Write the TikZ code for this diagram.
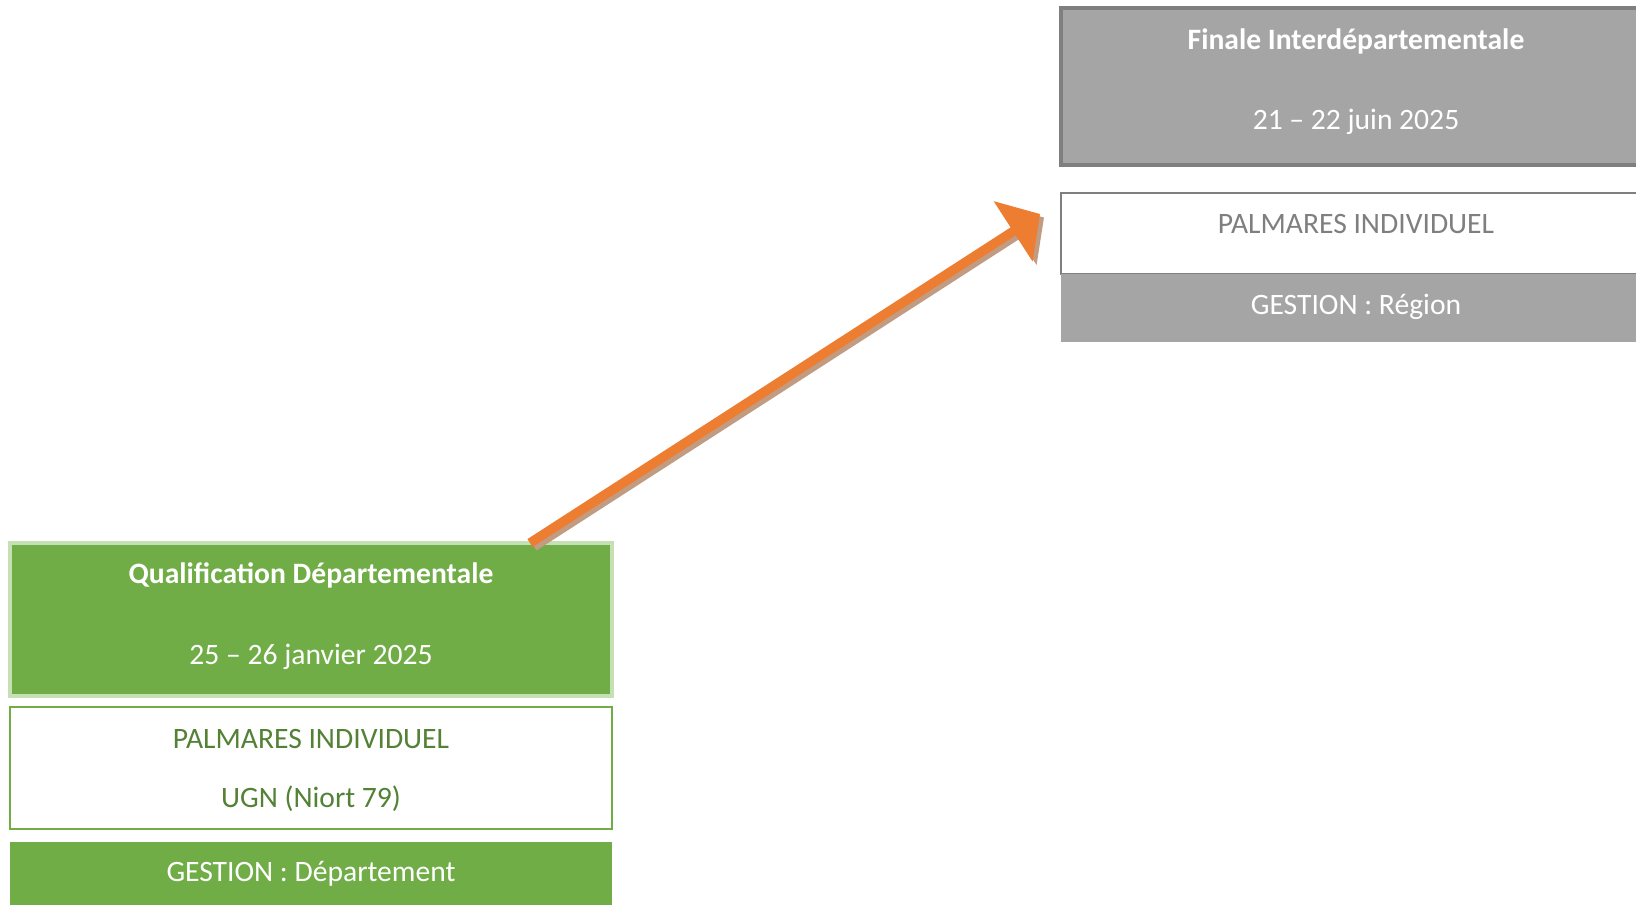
\documentclass[tikz,border=0pt]{standalone}
\usepackage{fontspec}
\setmainfont{Carlito}
\usetikzlibrary{arrows.meta,calc}
\definecolor{gfill}{HTML}{70AD47}
\definecolor{glight}{HTML}{C5E0B4}
\definecolor{gtext}{HTML}{538135}
\definecolor{grfill}{HTML}{A5A5A5}
\definecolor{grline}{HTML}{7F7F7F}
\definecolor{orng}{HTML}{ED7D31}
\definecolor{shad}{HTML}{C19C82}
\begin{document}
\begin{tikzpicture}[x=0.5pt,y=-0.5pt,
  box/.style={rectangle,inner sep=0pt,outer sep=0pt},
  txt/.style={inner sep=0pt,font=\fontsize{14.8}{17}\selectfont},
  btxt/.style={txt,font=\fontsize{14.8}{17}\selectfont\bfseries},
  arr/.style={line width=4.7pt,-{Triangle[length=16pt,width=35pt]}}]
\useasboundingbox (0,0) rectangle (1636,904);
% right column
\node[box,fill=grfill,draw=grline,line width=1.7pt,minimum width=299.5pt,minimum height=78.5pt] (finale) at (1360.5,86.5) {};
\node[box,fill=white,draw=grline,line width=1pt,minimum width=299.5pt,minimum height=40.5pt] (palmR) at (1360.5,233.5) {};
\node[box,fill=grfill,minimum width=299.5pt,minimum height=34pt] (gestR) at (1360.5,308) {};
\node[btxt,text=white] (finaleT) at ($(finale.north)+(-4.5,33)$) {Finale Interdépartementale};
\node[txt,text=white] (finaleD) at ($(finale.north)+(-4.5,114)$) {21 – 22 juin 2025};
\node[txt,text=grline] (palmRT) at ($(palmR.north)+(-4.5,31)$) {PALMARES INDIVIDUEL};
\node[txt,text=white] (gestRT) at ($(gestR.north)+(-4.5,33)$) {GESTION : Région};
% left column
\node[box,fill=gfill,draw=glight,line width=2pt,minimum width=301pt,minimum height=76.5pt] (qual) at (311,619.5) {};
\node[box,fill=white,draw=gfill,line width=1pt,minimum width=301pt,minimum height=61pt] (palmL) at (311,768) {};
\node[box,fill=gfill,minimum width=301pt,minimum height=40pt] (gestL) at (311,882) {};
\node[btxt,text=white] (qualT) at ($(qual.north)+(0,32)$) {Qualification Départementale};
\node[txt,text=white] (qualD) at ($(qual.north)+(0,114)$) {25 – 26 janvier 2025};
\node[txt,text=gtext] (palmLT) at ($(palmL.north)+(0,32)$) {PALMARES INDIVIDUEL};
\node[txt,text=gtext] (palmLU) at ($(palmL.north)+(0,92)$) {UGN (Niort 79)};
\node[txt,text=white] (gestLT) at ($(gestL.north)+(0,32)$) {GESTION : Département};
% arrow
\coordinate (start) at ($(qual.north west)+(520,0)$);
\coordinate (tip) at ($(palmR.west)+(-21,-19.5)$);
\draw[arr,draw=shad,fill=shad] ($(start)+(4,3.5)$) -- ($(tip)+(4,3.5)$);
\draw[arr,draw=orng,fill=orng] (start) -- (tip);
\end{tikzpicture}
\end{document}
